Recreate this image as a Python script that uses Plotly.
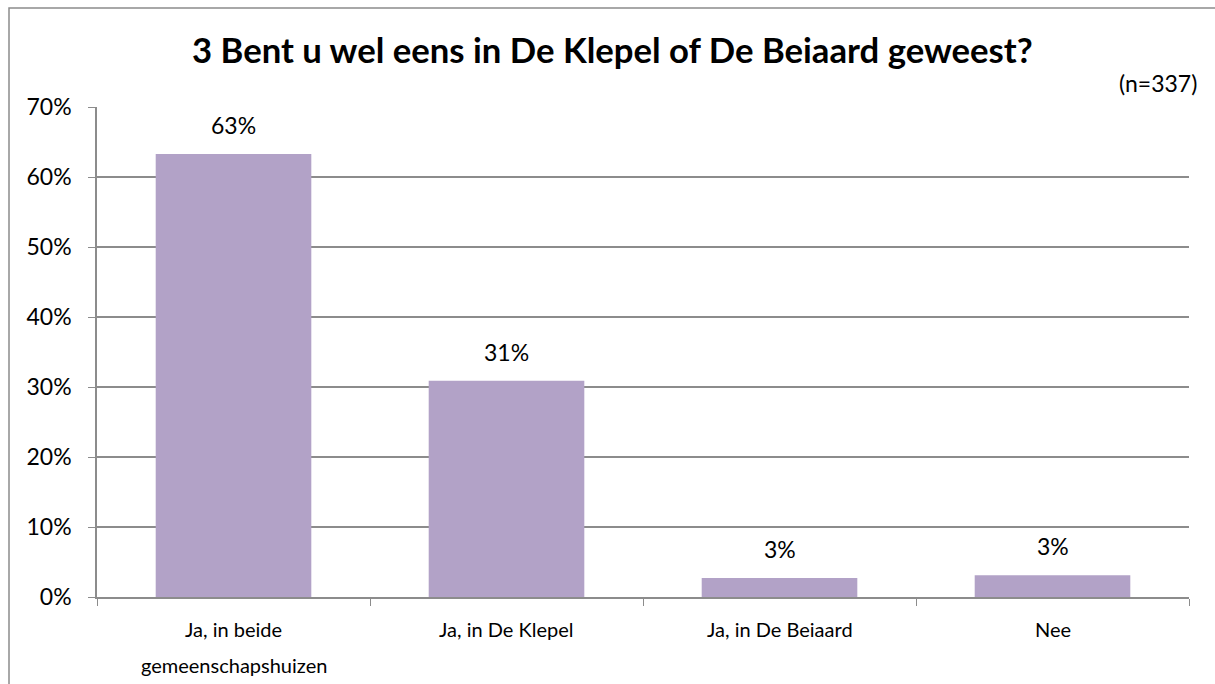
import plotly.graph_objects as go

categories = ["Ja, in beide<br>gemeenschapshuizen", "Ja, in De Klepel", "Ja, in De Beiaard", "Nee"]
percentages = [63.3, 30.9, 2.7, 3.1]
y_ticks = [0, 10, 20, 30, 40, 50, 60, 70]

WIDTH, HEIGHT = 1215, 684
LEFT, RIGHT, TOP, BOTTOM = 97, 26, 107, 87
plot_w = WIDTH - LEFT - RIGHT
plot_h = HEIGHT - TOP - BOTTOM
GRID = "#8c8c8c"
FONT = "Lato"


def px_x(x):
    return (x - LEFT) / plot_w


def px_y(y):
    return (HEIGHT - BOTTOM - y) / plot_h


fig = go.Figure(
    go.Bar(
        x=categories,
        y=percentages,
        marker={"color": "#b2a2c7", "line": {"width": 0}},
        width=0.57,
        hoverinfo="skip",
    )
)

for cat, val in zip(categories, percentages):
    fig.add_annotation(
        x=cat, y=val, text=f"{val:.0f}%", showarrow=False,
        yanchor="bottom", yshift=13, font={"size": 23, "color": "#000000"},
    )

# category labels, one annotation per line for Excel-like line spacing
for cat in categories:
    for i, line in enumerate(cat.split("<br>")):
        fig.add_annotation(
            x=cat, y=px_y(629 + 36 * i), yref="paper", text=line,
            showarrow=False, xanchor="center", yanchor="middle",
            font={"size": 20, "color": "#000000"},
        )

fig.add_annotation(
    text="<b>3 Bent u wel eens in De Klepel of De Beiaard geweest?</b>",
    xref="paper", yref="paper", x=px_x(612), y=px_y(50),
    xanchor="center", yanchor="middle", showarrow=False,
    font={"size": 34.7, "color": "#000000"},
)
fig.add_annotation(
    text="(n=337)", xref="paper", yref="paper", x=px_x(1199), y=px_y(83),
    xanchor="right", yanchor="middle", showarrow=False,
    font={"size": 23, "color": "#000000"},
)

# chart-area border (right and bottom edges fall outside the picture)
fig.add_shape(
    type="rect", xref="paper", yref="paper",
    x0=px_x(9), x1=px_x(1225), y0=px_y(695), y1=px_y(8),
    line={"color": "#8c8c8c", "width": 1.5}, fillcolor="rgba(0,0,0,0)",
)

fig.update_layout(
    width=WIDTH, height=HEIGHT,
    margin={"l": LEFT, "r": RIGHT, "t": TOP, "b": BOTTOM},
    plot_bgcolor="white", paper_bgcolor="white",
    font={"family": FONT, "size": 20, "color": "#000000"},
    showlegend=False,
)
fig.update_xaxes(
    type="category", showline=True, linecolor=GRID, linewidth=1.5,
    ticks="outside", tickson="boundaries", ticklen=7, tickcolor=GRID,
    showgrid=False, showticklabels=False,
)
fig.update_yaxes(
    range=[0, 70], tickvals=y_ticks, ticktext=[f"{v}%" for v in y_ticks],
    showline=True, linecolor=GRID, linewidth=1.5, ticks="outside", ticklen=7,
    tickcolor=GRID, gridcolor=GRID, gridwidth=1.5, zeroline=False,
    tickfont={"size": 23}, ticklabelstandoff=12,
)

fig.write_html(
    "out.html",
    config={"displayModeBar": False},
    post_script="document.body.style.margin='0';",
)
